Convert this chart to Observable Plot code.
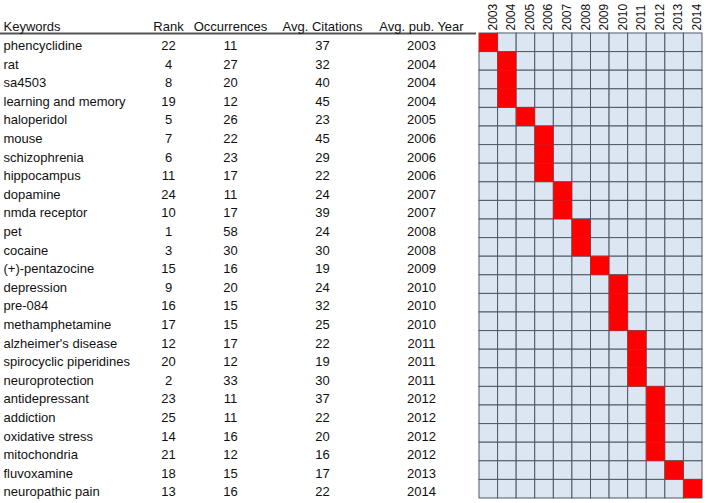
<!DOCTYPE html>
<html>
<head>
<meta charset="utf-8">
<script src="https://cdn.jsdelivr.net/npm/d3@7"></script>
<script src="https://cdn.jsdelivr.net/npm/@observablehq/plot@0.6"></script>
<style>
  html, body { margin: 0; padding: 0; background: #fff; }
  #chart svg { display: block; font-family: "Liberation Sans", Arial, sans-serif; }
</style>
</head>
<body>
<div id="chart"></div>
<script>
const keywords = ["phencyclidine","rat","sa4503","learning and memory","haloperidol","mouse","schizophrenia","hippocampus","dopamine","nmda receptor","pet","cocaine","(+)-pentazocine","depression","pre-084","methamphetamine","alzheimer's disease","spirocyclic piperidines","neuroprotection","antidepressant","addiction","oxidative stress","mitochondria","fluvoxamine","neuropathic pain"];
const ranks = [22,4,8,19,5,7,6,11,24,10,1,3,15,9,16,17,12,20,2,23,25,14,21,18,13];
const occurrences = [11,27,20,12,26,22,23,17,11,17,58,30,16,20,15,15,17,12,33,11,11,16,12,15,16];
const citations = [37,32,40,45,23,45,29,22,24,39,24,30,19,24,32,25,22,19,30,37,22,20,16,17,22];
const pubYears = [2003,2004,2004,2004,2005,2006,2006,2006,2007,2007,2008,2008,2009,2010,2010,2010,2011,2011,2011,2012,2012,2012,2012,2013,2014];
const years = [2003,2004,2005,2006,2007,2008,2009,2010,2011,2012,2013,2014];
const headers = ["Keywords","Rank","Occurrences","Avg. Citations","Avg. pub. Year"];

const rows = keywords.map((k, i) => ({keyword: k, rank: ranks[i], occ: occurrences[i], cit: citations[i], year: pubYears[i]}));
const grid = keywords.flatMap(k => years.map(y => ({keyword: k, year: y})));

const W = 708, H = 503;
const mL = 479, mR = 6, mT = 33, mB = 5;
const bw = (H - mT - mB) / keywords.length;

// table columns: offset of column from the frame's left edge
const cols = [
  {field: "keyword", header: headers[0], dx: 3 - mL, anchor: "start"},
  {field: "rank", header: headers[1], dx: 168 - mL, anchor: "middle"},
  {field: "occ", header: headers[2], dx: 230 - mL, anchor: "middle"},
  {field: "cit", header: headers[3], dx: 322 - mL, anchor: "middle"},
  {field: "year", header: headers[4], dx: 421 - mL, anchor: "middle"}
];

const font = {fontSize: 13, fill: "#111"};
const tableMarks = cols.flatMap(c => [
  Plot.text(rows, {y: "keyword", text: d => String(d[c.field]), frameAnchor: "left", lineAnchor: "middle", textAnchor: c.anchor, dx: c.dx, dy: 3, ...font}),
  Plot.text([c.header], {frameAnchor: "top-left", lineAnchor: "middle", textAnchor: c.anchor, dx: c.dx, dy: -6.5, ...font})
]);

const chart = Plot.plot({
  width: W,
  height: H,
  marginLeft: mL,
  marginRight: mR,
  marginTop: mT,
  marginBottom: mB,
  style: {fontFamily: "Liberation Sans, Arial, sans-serif", background: "#fff"},
  x: {type: "band", domain: years, padding: 0, round: false, axis: null},
  y: {type: "band", domain: keywords, padding: 0, round: false, axis: null},
  marks: [
    Plot.cell(grid, {x: "year", y: "keyword", fill: "#dce6f2", stroke: "#4f5964", strokeWidth: 1}),
    Plot.cell(rows, {x: "year", y: "keyword", fill: "#ff0000"}),
    Plot.text(years, {x: d => d, text: d => String(d), frameAnchor: "top", lineAnchor: "middle", rotate: -90, textAnchor: "start", dx: 4, dy: -3, fontSize: 12, fill: "#111"}),
    Plot.ruleY([keywords[0]], {dy: -bw / 2, insetLeft: -mL, insetRight: (W - mR) - 476, stroke: "#555", strokeWidth: 2}),
    ...tableMarks
  ]
});
document.getElementById("chart").appendChild(chart);
</script>
</body>
</html>
